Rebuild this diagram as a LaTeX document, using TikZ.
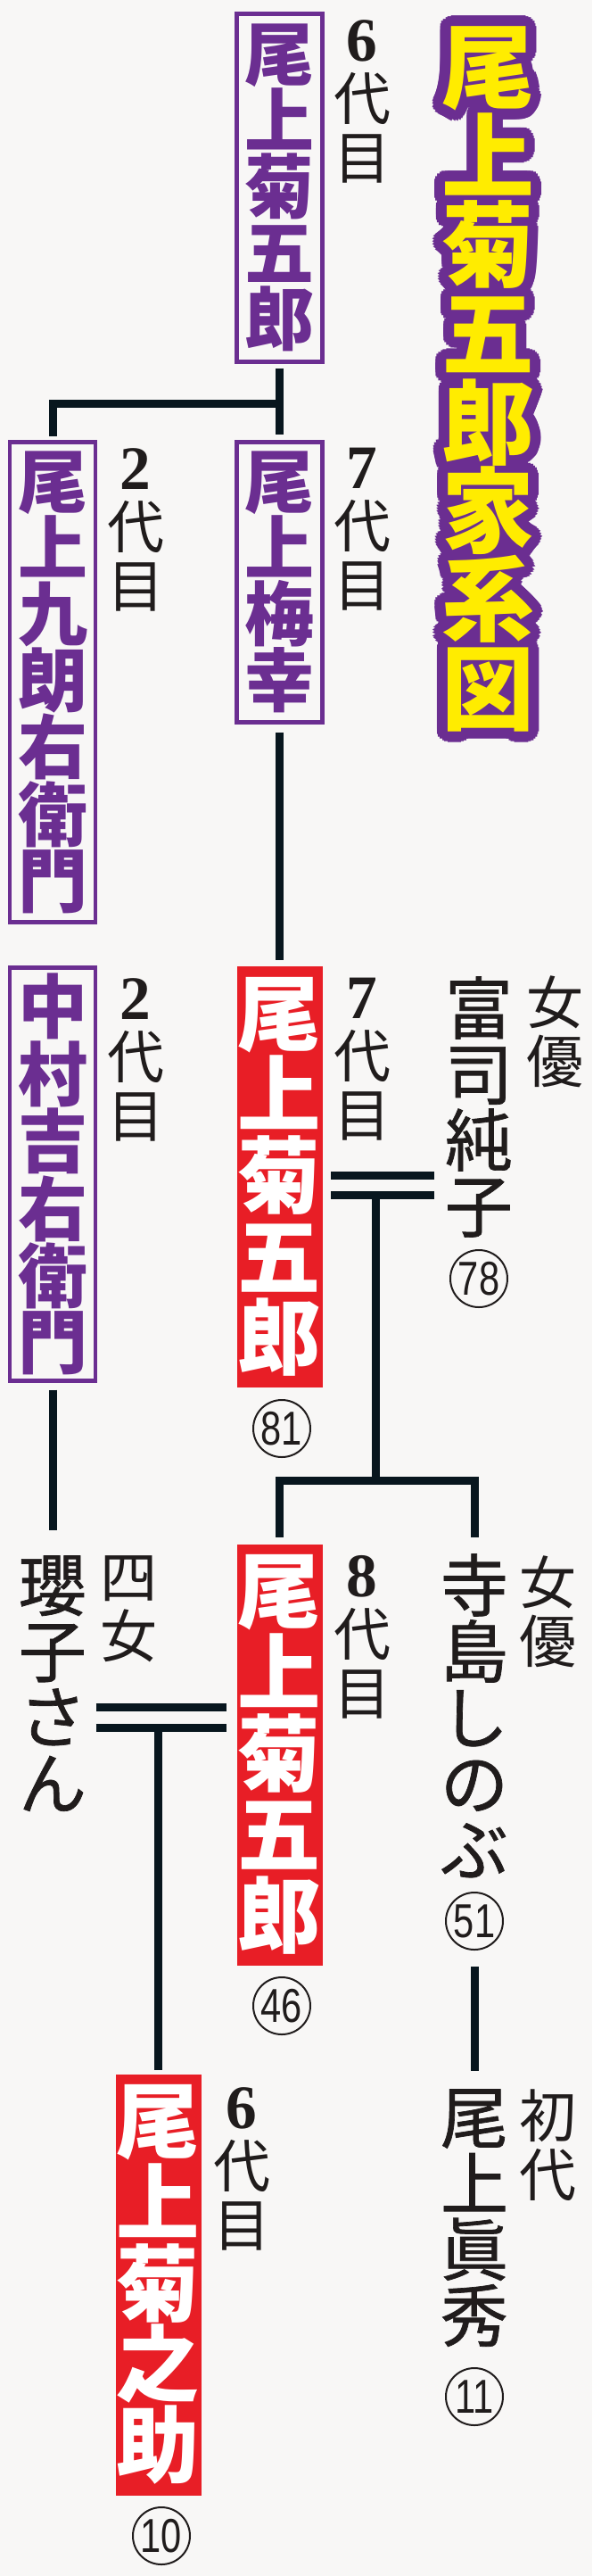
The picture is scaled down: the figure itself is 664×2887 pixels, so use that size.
\documentclass[tikz,border=0pt]{standalone}
\usepackage{fontspec}
\usetikzlibrary{calc}

\newfontfamily\goth{Noto Sans CJK JP}
\newfontfamily\gothm[FakeBold=0.9]{Noto Sans CJK JP}
\newfontfamily\serifnum{Liberation Serif}
\newfontfamily\agefont[FakeStretch=0.78]{Liberation Sans}

\definecolor{purp}{RGB}{107,46,145}
\definecolor{redb}{RGB}{232,30,38}
\definecolor{yel}{RGB}{255,236,0}
\definecolor{ink}{RGB}{32,28,28}
\definecolor{lnc}{RGB}{8,22,30}
\definecolor{bgc}{RGB}{248,247,246}

\newcommand\gnum[1]{{\serifnum\bfseries\fontsize{52}{49.5}\selectfont #1}}
\newcommand\titletxt{尾\\上\\菊\\五\\郎\\家\\系\\図}

\tikzset{every picture/.style={line width=0.75pt},
	pbox/.style={draw=purp,line width=3.5pt,text=purp,font=\goth\bfseries\fontsize{58.5}{55.5}\selectfont,align=center,inner sep=0pt,minimum width=72pt},
	rbox/.style={fill=redb,text=white,font=\goth\bfseries\fontsize{70}{68}\selectfont,align=center,inner sep=0pt,minimum width=72pt,minimum height=354pt},
	pname/.style={text=ink,font=\gothm\fontsize{57}{55.5}\selectfont,align=center,inner sep=0pt,anchor=north},
	gen/.style={text=ink,font=\goth\fontsize{48}{49.5}\selectfont,align=center,inner sep=0pt,anchor=north},
	age/.style={circle,draw=ink,line width=1.5pt,inner sep=0pt,minimum size=48pt,text=ink,font=\agefont\fontsize{40}{40}\selectfont},
	conn/.style={draw=lnc,line width=6.75pt},
	title/.style={font=\goth\bfseries\fontsize{78}{74.5}\selectfont,align=center,inner sep=0pt}}

\begin{document}
\begin{tikzpicture}[x=0.75pt,y=0.75pt,yscale=-1,xscale=1]
	\useasboundingbox (0,0) rectangle (664,2887);
	\fill[bgc] (0,0) rectangle (664,2887);

	%Title
	\foreach \r in {6,12}
		\foreach \a in {0,15,...,345}
			\node[title,text=purp] at ($(547,425)+(\a:\r)$) {\titletxt};
	\node[title,text=yel] (title) at (547,425) {\titletxt};

	%Boxes
	\node[pbox,minimum height=292.5pt] (gen6) at (313.5,210.25) {尾\\上\\菊\\五\\郎};
	\node[pbox,minimum height=403.5pt] (kuro) at (59,764.5) {尾\\上\\九\\朗\\右\\衛\\門};
	\node[pbox,minimum height=235.5pt] (baiko) at (313.5,652.5) {尾\\上\\梅\\幸};
	\node[pbox,minimum height=347pt] (kichi) at (59,1316) {中\\村\\吉\\右\\衛\\門};
	\node[rbox] (kiku7) at (313.5,1319) {尾\\上\\菊\\五\\郎};
	\node[rbox] (kiku8) at (313.5,1966.5) {尾\\上\\菊\\五\\郎};
	\node[rbox] (nosuke) at (177.5,2560.5) {尾\\上\\菊\\之\\助};

	%Names
	\node[pname] (junko) at (537,1094) {富\\司\\純\\子};
	\node[pname] (shinobu) at (532,1741) {寺\\島\\し\\の\\ぶ};
	\node[pname] (mahide) at (532,2341) {尾\\上\\眞\\秀};
	\node[pname] (reiko) at (59,1743) {瓔\\子\\さ\\ん};

	% Text Node
	\node[gen] (lgen6) at (406,22) {\gnum{6}\\代\\目};
	\node[gen] (lkuro) at (152,502) {\gnum{2}\\代\\目};
	\node[gen] (lbaiko) at (406,502) {\gnum{7}\\代\\目};
	\node[gen] (lkichi) at (152,1096) {\gnum{2}\\代\\目};
	\node[gen] (lkiku7) at (406,1096) {\gnum{7}\\代\\目};
	\node[gen] (ljunko) at (622,1093) {女\\優};
	\node[gen] (lkiku8) at (406,1743) {\gnum{8}\\代\\目};
	\node[gen] (lshinobu) at (614,1743) {女\\優};
	\node[gen] (lreiko) at (144,1743) {四\\女};
	\node[gen] (lnosuke) at (271,2339) {\gnum{6}\\代\\目};
	\node[gen] (lmahide) at (614,2341) {初\\代};

	%Ages
	\node[age] (age78) at (537,1433) {78};
	\node[age] (age81) at (316,1601) {81};
	\node[age] (age46) at (316,2248) {46};
	\node[age] (age51) at (532,2153) {51};
	\node[age] (age11) at (532,2686) {11};
	\node[age] (age10) at (181,2842) {10};

	%Straight Lines
	\coordinate (j1) at (313.5,452);
	\draw[conn,shorten <=3.75pt,shorten >=4.5pt] (gen6.south) -- (baiko.north);
	\draw[conn,shorten >=3pt] (j1) -| (kuro.north);
	\draw[conn,shorten <=6.75pt,shorten >=5.25pt] (baiko.south) -- (kiku7.north);
	%Marriage
	\coordinate (m1a) at (421,1317);
	\coordinate (m1b) at (421,1339);
	\coordinate (s1) at (421,1659);
	\draw[conn,shorten <=6.75pt,shorten >=9pt] (m1a -| kiku7.east) -- (m1a -| junko.west);
	\draw[conn,shorten <=6.75pt,shorten >=9pt] (m1b -| kiku7.east) -- (m1b -| junko.west);
	\draw[conn] (m1b) -- (s1);
	\draw[conn,shorten >=5.25pt] (s1) -| (kiku8.north);
	\draw[conn,shorten >=13.5pt] (s1) -| (shinobu.north);
	\draw[conn,shorten <=6pt,shorten >=21pt] (kichi.south) -- (reiko.north);
	%Marriage
	\coordinate (m2a) at (177.5,1913);
	\coordinate (m2b) at (177.5,1936);
	\draw[conn,shorten <=7.5pt,shorten >=8pt] (m2a -| reiko.east) -- (m2a -| kiku8.west);
	\draw[conn,shorten <=7.5pt,shorten >=8pt] (m2b -| reiko.east) -- (m2b -| kiku8.west);
	\draw[conn,shorten >=3pt] (m2b) -- (nosuke.north);
	\draw[conn,shorten <=13.5pt,shorten >=15pt] (age51.south) -- (mahide.north);

\end{tikzpicture}
\end{document}
